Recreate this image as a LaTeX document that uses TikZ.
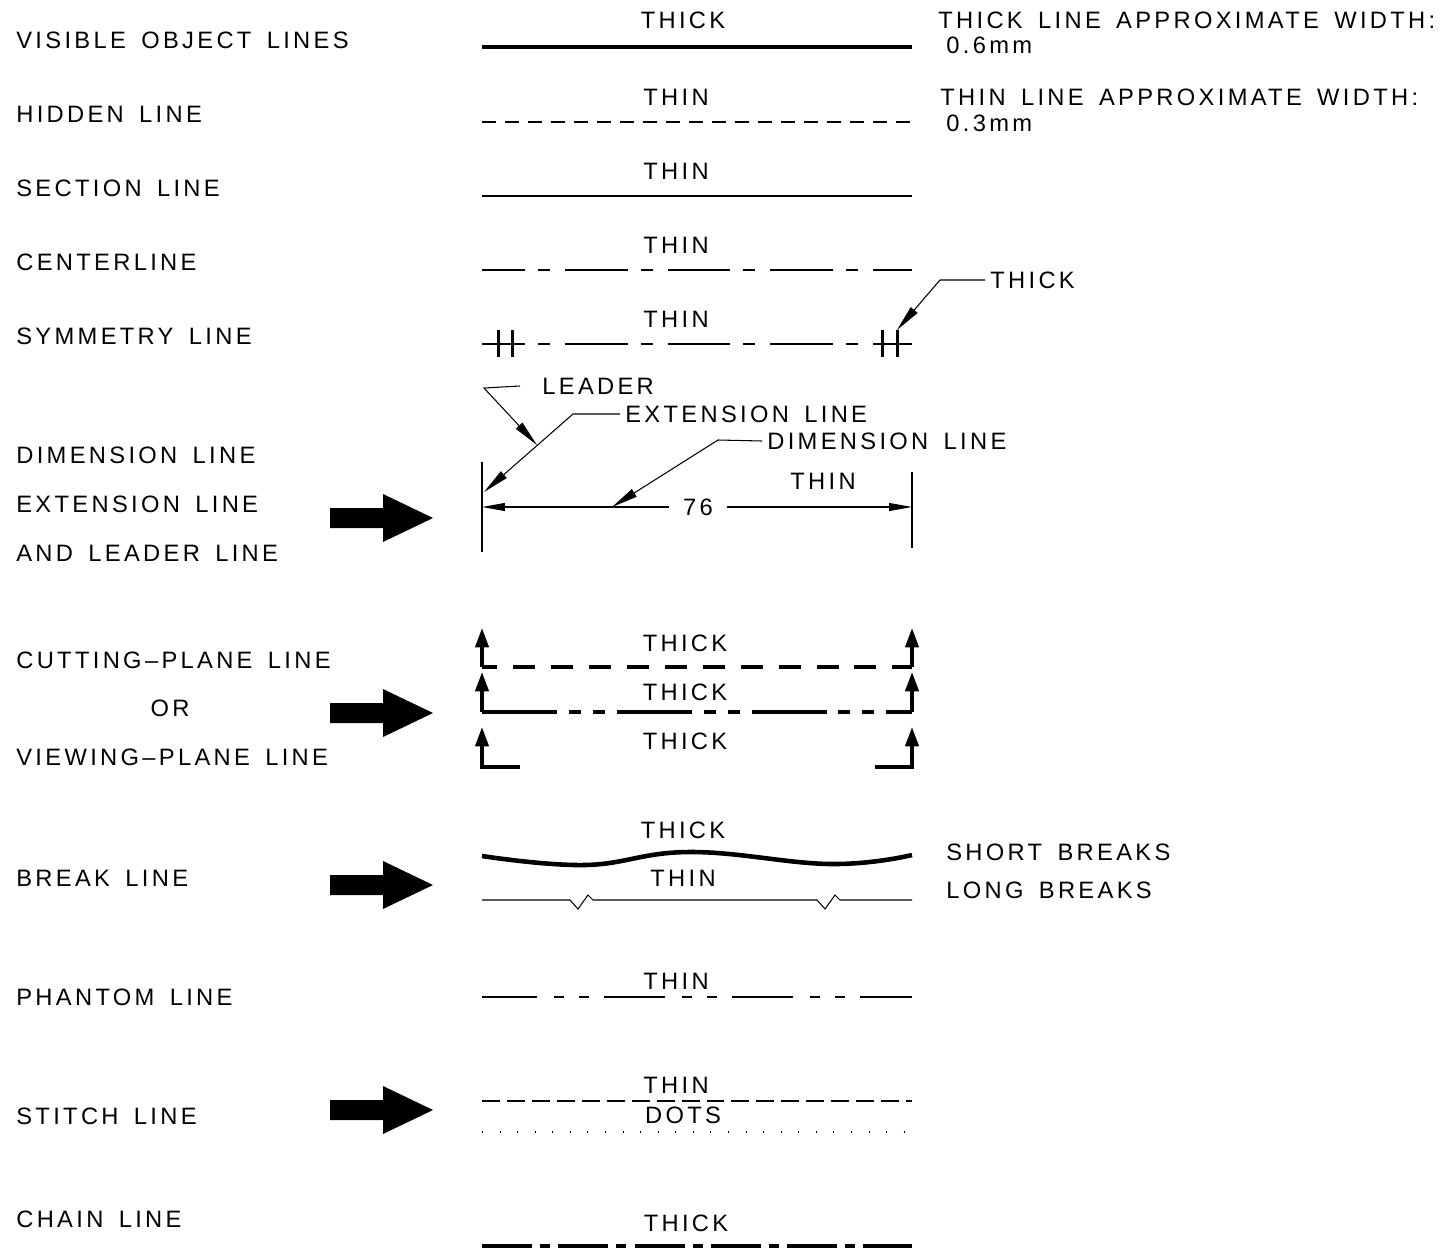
\documentclass[tikz,border=0pt]{standalone}
\usepackage{fontspec}
\setmainfont{Liberation Sans}[LetterSpace=14,WordSpace=1.55]
\usetikzlibrary{arrows.meta}

\begin{document}
\begin{tikzpicture}[x=0.02cm,y=-0.02cm]
	\tikzstyle{every node}+=[inner sep=0pt,font=\fontsize{13.5}{16}\selectfont]
	\tikzstyle{rowlabel}=[anchor=west]
	\tikzstyle{thickline}=[line width=2pt]
	\tikzstyle{thinline}=[line width=0.6pt]
	\tikzstyle{leaderline}=[line width=0.6pt,-{Triangle[length=15pt,width=5pt]}]
	\tikzstyle{dimline}=[line width=0.6pt,-{Triangle[length=13pt,width=4.5pt]}]
	\tikzstyle{viewline}=[line width=2pt,-{Triangle[length=11pt,width=7.5pt]}]
	\useasboundingbox (0,0) rectangle (1442,1250);
	\node[rowlabel] (visible) at (16,40) {VISIBLE OBJECT LINES};
	\node[rowlabel] (hidden) at (16,114) {HIDDEN LINE};
	\node[rowlabel] (section) at (16,188) {SECTION LINE};
	\node[rowlabel] (center) at (16,262) {CENTERLINE};
	\node[rowlabel] (symmetry) at (16,336) {SYMMETRY LINE};
	\node[rowlabel] (dimension) at (16,455) {DIMENSION LINE};
	\node[rowlabel] (extension) at (16,504) {EXTENSION LINE};
	\node[rowlabel] (leaderrow) at (16,553) {AND LEADER LINE};
	\node[rowlabel] (cutting) at (16,660) {CUTTING--PLANE LINE};
	\node (or) at (170,708) {OR};
	\node[rowlabel] (viewing) at (16,757) {VIEWING--PLANE LINE};
	\node[rowlabel] (break) at (16,878) {BREAK LINE};
	\node[rowlabel] (phantom) at (16,997) {PHANTOM LINE};
	\node[rowlabel] (stitch) at (16,1116) {STITCH LINE};
	\node[rowlabel] (chain) at (16,1219) {CHAIN LINE};
	\foreach \y in {518,713,885,1110}
		\fill (330,\y-10) -- (383,\y-10) -- (383,\y-24) -- (433,\y) -- (383,\y+24) -- (383,\y+10) -- (330,\y+10) -- cycle;
	\node (visthick) at (683,20) {THICK};
	\draw[thickline] (482,47) -- (912,47);
	\node[rowlabel] (thickwidth) at (938,20) {THICK LINE APPROXIMATE WIDTH:};
	\node[rowlabel] (thickmm) at (946,45) {0.6mm};
	\node (hidthin) at (676,97) {THIN};
	\draw[thinline,dash pattern=on 8pt off 5.1pt] (482,122) -- (912,122);
	\node[rowlabel] (thinwidth) at (940,97) {THIN LINE APPROXIMATE WIDTH:};
	\node[rowlabel] (thinmm) at (946,123) {0.3mm};
	\node (secthin) at (676,171) {THIN};
	\draw[thinline] (482,196) -- (912,196);
	\node (centhin) at (676,245) {THIN};
	\draw[thinline,dash pattern=on 35.8pt off 7.4pt on 6.8pt off 8.5pt,dash phase=11.4pt] (482,270) -- (912,270);
	\node (symthin) at (676,319) {THIN};
	\draw[thinline,dash pattern=on 35.8pt off 7.4pt on 6.8pt off 8.5pt,dash phase=11.4pt] (482,344) -- (912,344);
	\draw[line width=1.7pt] (498,330) -- (498,357) (512,330) -- (512,357);
	\draw[line width=1.7pt] (882,330) -- (882,357) (897,330) -- (897,357);
	\node[rowlabel] (symthick) at (990,280) {THICK};
	\draw[leaderline] (symthick.west) ++(-5,0) -- (940,280) -- (897,330);
	\draw[thinline] (482,462) -- (482,552);
	\draw[thinline] (912,472) -- (912,548);
	\node[inner xsep=8pt] (dimnum) at (698,507) {76};
	\draw[dimline] (dimnum.west) -- (482,507);
	\draw[dimline] (dimnum.east) -- (912,507);
	\node (dimthin) at (823,481) {THIN};
	\node[rowlabel] (leadertext) at (542,386) {LEADER};
	\draw[leaderline] (leadertext.west) ++(-22,0) -- (484,388) -- (537,445);
	\node[rowlabel] (exttext) at (625,414) {EXTENSION LINE};
	\draw[leaderline] (exttext.west) ++(-5,0) -- (573,414) -- (484,492);
	\node[rowlabel] (dimtext) at (767,441) {DIMENSION LINE};
	\draw[leaderline] (dimtext.west) ++(-5,0) -- (718,440) -- (612,507);
	\node (cutone) at (685,643) {THICK};
	\draw[viewline] (482,667) -- (482,628);
	\draw[viewline] (912,667) -- (912,628);
	\draw[thickline,dash pattern=on 12.5pt off 9.1pt,dash phase=4pt] (482,667) -- (912,667);
	\node (cuttwo) at (685,692) {THICK};
	\draw[viewline] (482,712) -- (482,672);
	\draw[viewline] (912,712) -- (912,672);
	\draw[thickline,dash pattern=on 42.7pt off 6.8pt on 6.8pt off 6.8pt on 6.8pt off 6.8pt] (482,712) -- (912,712);
	\node (cutthree) at (685,741) {THICK};
	\draw[viewline] (520,767) -- (482,767) -- (482,727);
	\draw[viewline] (875,767) -- (912,767) -- (912,727);
	\node (brkthick) at (683,830) {THICK};
	\draw[line width=2.6pt] plot[smooth,tension=0.7] coordinates {(482,856) (585,865) (690,852) (830,864) (912,855)};
	\node (brkthin) at (683,878) {THIN};
	\draw[thinline] (482,900) -- (570,900) -- (578,909) -- (588,895) -- (593,900) -- (817,900) -- (825,909) -- (835,895) -- (840,900) -- (912,900);
	\node[rowlabel] (shortbrk) at (946,852) {SHORT BREAKS};
	\node[rowlabel] (longbrk) at (946,890) {LONG BREAKS};
	\node (phanthin) at (676,981) {THIN};
	\draw[thinline,dash pattern=on 34.7pt off 9.7pt on 5.7pt off 8.5pt on 5.7pt off 8.5pt,dash phase=3.4pt] (482,997) -- (912,997);
	\node (stithin) at (676,1085) {THIN};
	\draw[thinline,dash pattern=on 10.2pt off 4pt] (482,1101) -- (912,1101);
	\node (stidots) at (683,1115) {DOTS};
	\draw[line width=1pt,dash pattern=on 0.6pt off 9.4pt] (482,1132) -- (912,1132);
	\node (chathick) at (686,1223) {THICK};
	\draw[thickline,dash pattern=on 28.5pt off 4.6pt on 5.7pt off 4.6pt] (482,1246) -- (912,1246);
\end{tikzpicture}
\end{document}
